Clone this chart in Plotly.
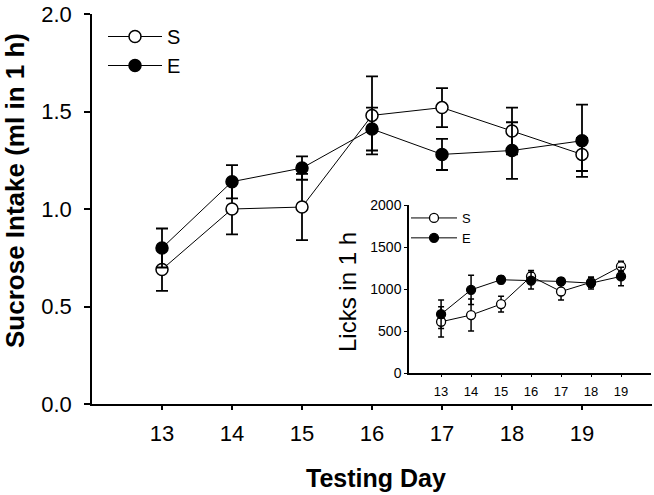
import plotly.graph_objects as go

# ---- data ----
days = [13, 14, 15, 16, 17, 18, 19]

s_intake = [0.69, 1.00, 1.01, 1.48, 1.52, 1.40, 1.28]
s_intake_err = [0.11, 0.13, 0.17, 0.20, 0.10, 0.12, 0.085]
e_intake = [0.80, 1.14, 1.21, 1.41, 1.28, 1.30, 1.35]
e_intake_err = [0.10, 0.085, 0.06, 0.11, 0.08, 0.145, 0.185]

s_licks = [610, 690, 820, 1150, 970, 1080, 1270]
s_licks_err = [180, 190, 95, 70, 100, 60, 60]
e_licks = [700, 990, 1110, 1100, 1090, 1070, 1150]
e_licks_err = [170, 175, 45, 100, 45, 70, 110]

main_yticks = [0.0, 0.5, 1.0, 1.5, 2.0]
main_yticklabels = ["0.0", "0.5", "1.0", "1.5", "2.0"]
inset_yticks = [0, 500, 1000, 1500, 2000]

W, H = 654, 495
FONT = "Liberation Sans, Arial, sans-serif"

fig = go.Figure()

# main panel
fig.add_trace(go.Scatter(
    x=days, y=s_intake, name="S", mode="lines+markers",
    line=dict(color="black", width=1),
    marker=dict(size=12, color="white", line=dict(color="black", width=1.5)),
    error_y=dict(type="data", array=s_intake_err, color="black", thickness=1.8, width=6),
    xaxis="x", yaxis="y", legend="legend",
))
fig.add_trace(go.Scatter(
    x=days, y=e_intake, name="E", mode="lines+markers",
    line=dict(color="black", width=1),
    marker=dict(size=12, color="black", line=dict(color="black", width=1.5)),
    error_y=dict(type="data", array=e_intake_err, color="black", thickness=1.8, width=6),
    xaxis="x", yaxis="y", legend="legend",
))

# inset panel
fig.add_trace(go.Scatter(
    x=days, y=s_licks, name="S", mode="lines+markers",
    line=dict(color="black", width=1),
    marker=dict(size=9, color="white", line=dict(color="black", width=1.3)),
    error_y=dict(type="data", array=s_licks_err, color="black", thickness=1.5, width=3),
    xaxis="x2", yaxis="y2", legend="legend2",
))
fig.add_trace(go.Scatter(
    x=days, y=e_licks, name="E", mode="lines+markers",
    line=dict(color="black", width=1),
    marker=dict(size=9, color="black", line=dict(color="black", width=1.3)),
    error_y=dict(type="data", array=e_licks_err, color="black", thickness=1.5, width=3),
    xaxis="x2", yaxis="y2", legend="legend2",
))

def px_x(p):
    return p / W

def px_y(p):
    return 1 - p / H

fig.update_layout(
    width=W, height=H,
    margin=dict(l=0, r=0, t=0, b=0, pad=0, autoexpand=False),
    paper_bgcolor="white", plot_bgcolor="rgba(0,0,0,0)",
    font=dict(family=FONT, color="black"),
    xaxis=dict(
        domain=[px_x(92), px_x(652)], range=[12, 20], automargin=False,
        tickvals=days, ticktext=[str(d) for d in days],
        ticks="outside", ticklen=4, tickwidth=1.5, tickcolor="black",
        ticklabelstandoff=5,
        showline=True, linecolor="black", linewidth=1.5,
        showgrid=False, zeroline=False,
        tickfont=dict(size=22, family=FONT), anchor="y",
    ),
    yaxis=dict(
        domain=[px_y(404), px_y(14)], range=[0, 2], automargin=False,
        tickvals=main_yticks, ticktext=main_yticklabels,
        ticks="outside", ticklen=6, tickwidth=1.5, tickcolor="black",
        ticklabelstandoff=8,
        showline=True, linecolor="black", linewidth=1.5,
        showgrid=False, zeroline=False,
        tickfont=dict(size=22, family=FONT), anchor="x",
    ),
    xaxis2=dict(
        domain=[px_x(409), px_x(651)], range=[11.93, 20.0], automargin=False,
        tickvals=days, ticktext=[str(d) for d in days],
        ticks="outside", ticklen=2, tickwidth=1, tickcolor="black",
        ticklabelstandoff=4,
        showline=True, linecolor="black", linewidth=1.5,
        showgrid=False, zeroline=False,
        tickfont=dict(size=13, family=FONT), anchor="y2",
    ),
    yaxis2=dict(
        domain=[px_y(373), px_y(205)], range=[0, 2000], automargin=False,
        tickvals=inset_yticks,
        ticks="outside", ticklen=3, tickwidth=1, tickcolor="black",
        showline=True, linecolor="black", linewidth=1.5,
        showgrid=False, zeroline=False,
        tickfont=dict(size=14, family=FONT), anchor="x2",
    ),
    legend=dict(
        x=px_x(103), y=px_y(17), xanchor="left", yanchor="top",
        bgcolor="rgba(0,0,0,0)", borderwidth=0,
        font=dict(size=20, family=FONT), itemwidth=54,
        tracegroupgap=0,
    ),
    legend2=dict(
        x=px_x(406), y=px_y(203), xanchor="left", yanchor="top",
        bgcolor="rgba(0,0,0,0)", borderwidth=0,
        font=dict(size=13, family=FONT), itemwidth=46,
    ),
    showlegend=True,
    annotations=[
        dict(text="<b>Sucrose Intake (ml in 1 h)</b>", textangle=-90,
             x=px_x(15), y=px_y(191), xref="paper", yref="paper",
             xanchor="center", yanchor="middle", showarrow=False,
             font=dict(size=26, family=FONT)),
        dict(text="<b>Testing Day</b>",
             x=px_x(376), y=px_y(478), xref="paper", yref="paper",
             xanchor="center", yanchor="middle", showarrow=False,
             font=dict(size=25, family=FONT)),
        dict(text="Licks in 1 h", textangle=-90,
             x=px_x(347), y=px_y(292), xref="paper", yref="paper",
             xanchor="center", yanchor="middle", showarrow=False,
             font=dict(size=24, family=FONT)),
    ],
)

fig.write_html(
    "out.html",
    config={"displayModeBar": False},
    post_script="document.body.style.margin='0px';document.body.style.overflow='hidden';",
)
